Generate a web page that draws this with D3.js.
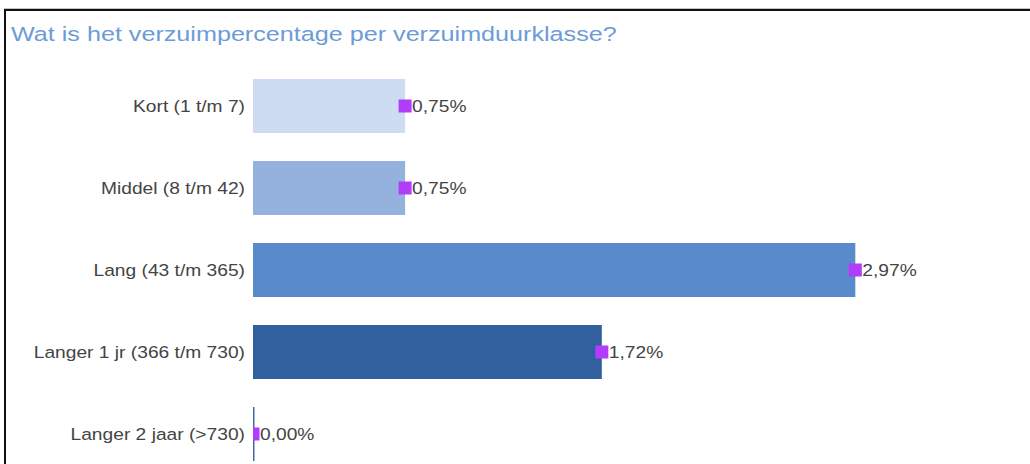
<!DOCTYPE html>
<html>
<head>
<meta charset="utf-8">
<script src="https://cdn.jsdelivr.net/npm/d3@7"></script>
<style>
  html, body { margin: 0; padding: 0; background: #fff; }
  svg { display: block; font-family: "Liberation Sans", Arial, sans-serif; }
</style>
</head>
<body>
<svg id="chart" width="1030" height="464"></svg>
<script>
const title = "Wat is het verzuimpercentage per verzuimduurklasse?";
const categories = ["Kort (1 t/m 7)", "Middel (8 t/m 42)", "Lang (43 t/m 365)", "Langer 1 jr (366 t/m 730)", "Langer 2 jaar (>730)"];
const values = [0.75, 0.75, 2.97, 1.72, 0.00];
const valueLabels = ["0,75%", "0,75%", "2,97%", "1,72%", "0,00%"];
const barColors = ["#cddcf0", "#94b2dd", "#598acb", "#30609e", "#44689f"];

const svg = d3.select("#chart");

// frame (top and left edges)
svg.append("rect").attr("x", 4).attr("y", 8).attr("width", 1026).attr("height", 1).attr("fill", "#c4c4c4");
svg.append("rect").attr("x", 4).attr("y", 9).attr("width", 1026).attr("height", 2).attr("fill", "#111");
svg.append("rect").attr("x", 4).attr("y", 9).attr("width", 2).attr("height", 455).attr("fill", "#111");

// title
svg.append("g").attr("transform", "translate(11,41) scale(1.29,1)")
  .append("text")
  .attr("font-size", 19.5)
  .attr("fill", "#6c9bd8")
  .text(title);

const x = d3.scaleLinear().domain([0, 3]).range([253, 253 + 3 * 202.8]);
const y = d3.scaleBand().domain(categories).range([79, 461]).paddingInner(28 / 82).paddingOuter(0);

const defs = svg.append("defs");
defs.append("clipPath").attr("id", "plot")
  .append("rect").attr("x", 253).attr("y", 60).attr("width", 777).attr("height", 404);

// bars (zero value still shows a thin line)
svg.append("g").selectAll("rect").data(categories).join("rect")
  .attr("x", x(0))
  .attr("y", d => y(d))
  .attr("width", (d, i) => Math.max(x(values[i]) - x(0), 1.5))
  .attr("height", y.bandwidth())
  .attr("fill", (d, i) => barColors[i]);

// markers
const m = 13;
svg.append("g").attr("clip-path", "url(#plot)").selectAll("rect").data(categories).join("rect")
  .attr("x", (d, i) => x(values[i]) - m / 2)
  .attr("y", d => y(d) + y.bandwidth() / 2 - m / 2)
  .attr("width", m)
  .attr("height", m)
  .attr("fill", "#b13cfa");

// category labels
svg.append("g").selectAll("g").data(categories).join("g")
  .attr("transform", d => `translate(245,${y(d) + y.bandwidth() / 2}) scale(1.13,1)`)
  .append("text")
  .attr("text-anchor", "end")
  .attr("dy", "0.36em")
  .attr("font-size", 17)
  .attr("fill", "#444")
  .text(d => d);

// value labels
svg.append("g").selectAll("g").data(categories).join("g")
  .attr("transform", (d, i) => `translate(${x(values[i]) + 7},${y(d) + y.bandwidth() / 2}) scale(1.13,1)`)
  .append("text")
  .attr("text-anchor", "start")
  .attr("dy", "0.36em")
  .attr("font-size", 17)
  .attr("fill", "#444")
  .text((d, i) => valueLabels[i]);
</script>
</body>
</html>
